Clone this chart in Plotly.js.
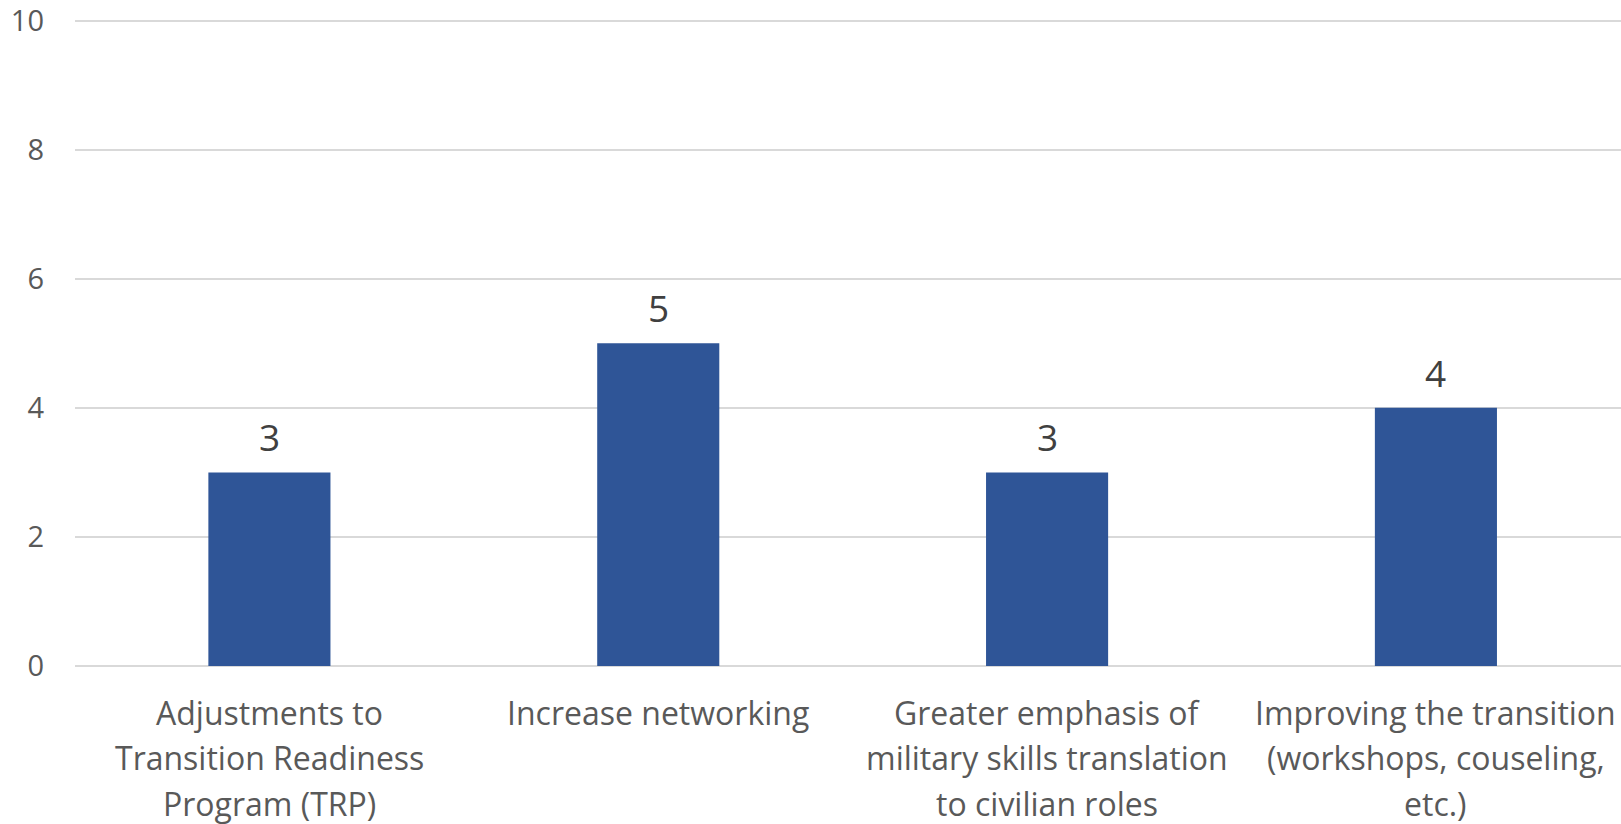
<!DOCTYPE html>
<html>
<head>
<meta charset="utf-8">
<script src="https://cdn.plot.ly/plotly-3.0.1.min.js"></script>
<style>html,body{margin:0;padding:0;background:#fff;}#chart{width:1621px;height:824px;}</style>
</head>
<body>
<div id="chart"></div>
<script>
const categories = [
  "Adjustments to Transition Readiness Program (TRP)",
  "Increase networking",
  "Greater emphasis of military skills translation to civilian roles",
  "Improving the transition (workshops, couseling, etc.)"
];
const tickLines = [
  ["Adjustments to", "Transition Readiness", "Program (TRP)"],
  ["Increase networking"],
  ["Greater emphasis of", "military skills translation", "to civilian roles"],
  ["Improving the transition", "(workshops, couseling,", "etc.)"]
];
const values = [3, 5, 3, 4];
const yTicks = [0, 2, 4, 6, 8, 10];

const trace = {
  type: 'bar',
  x: categories,
  y: values,
  marker: {color: '#2f5597'},
  hoverinfo: 'none',
  cliponaxis: false
};

const valueLabels = categories.map((c, i) => ({
  x: c, y: values[i], xref: 'x', yref: 'y',
  text: String(values[i]), showarrow: false,
  yanchor: 'bottom', yshift: 8,
  font: {family: 'Open Sans, sans-serif', size: 37, color: '#404040'}
}));

const LINE_GAP = 45.5, FIRST = 46;
const categoryLabels = [];
categories.forEach((c, i) => {
  tickLines[i].forEach((line, j) => {
    categoryLabels.push({
      x: c, y: 0, xref: 'x', yref: 'paper',
      text: line, showarrow: false,
      xanchor: 'center', yanchor: 'middle',
      yshift: -(FIRST + j * LINE_GAP),
      font: {family: 'Open Sans, sans-serif', size: 32, color: '#595959'}
    });
  });
});

const layout = {
  width: 1621, height: 824,
  margin: {l: 75, r: 0, t: 19, b: 158, pad: 0},
  paper_bgcolor: '#fff', plot_bgcolor: '#fff',
  bargap: 0.686,
  showlegend: false,
  font: {family: 'Open Sans, sans-serif', size: 32, color: '#595959'},
  xaxis: {
    type: 'category',
    range: [-0.5, 3.476],
    showgrid: false, zeroline: false, showline: false,
    ticks: '', showticklabels: false,
    fixedrange: true
  },
  yaxis: {
    range: [0, 10.025],
    tickvals: yTicks,
    ticktext: yTicks.map(String),
    showgrid: true, gridcolor: '#d9d9d9', gridwidth: 2,
    zeroline: true, zerolinecolor: '#d9d9d9', zerolinewidth: 2,
    showline: false, ticks: '',
    tickfont: {size: 29, color: '#595959'},
    ticklabelstandoff: 30,
    ticklabeloverflow: 'allow',
    fixedrange: true
  },
  annotations: valueLabels.concat(categoryLabels)
};

Plotly.newPlot('chart', [trace], layout, {displayModeBar: false, staticPlot: true});
</script>
</body>
</html>
